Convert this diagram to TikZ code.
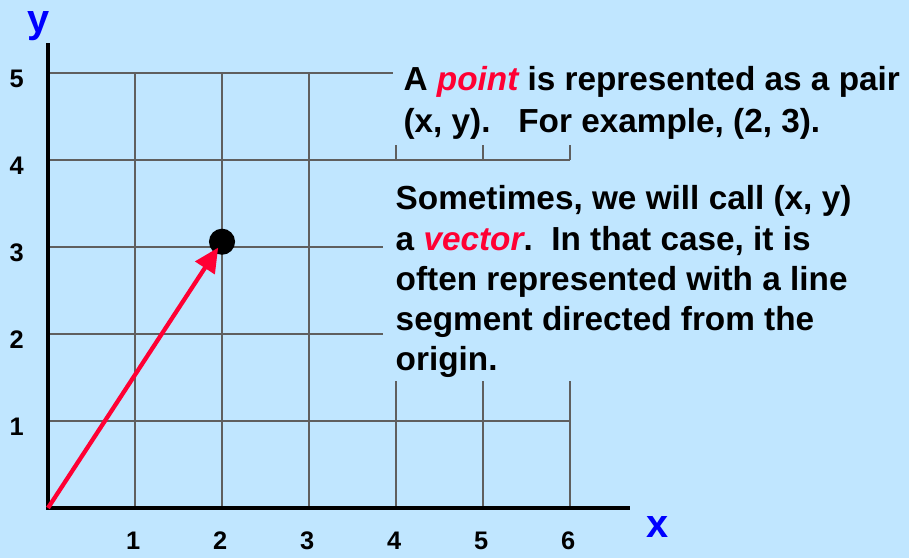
\documentclass[tikz,border=0pt]{standalone}
\usepackage{fontspec}
\setmainfont{Liberation Sans}
\usetikzlibrary{arrows.meta}
\definecolor{slidebg}{RGB}{192,230,255}
\definecolor{vecred}{RGB}{255,0,51}
\definecolor{gridgray}{RGB}{95,95,95}

\begin{document}
\begin{tikzpicture}[>=Latex,
  gridline/.style={gridgray,line width=.5pt},
  axis/.style={line width=1.35pt,line join=miter},
  num/.style={font=\fontsize{8.3}{10}\selectfont\bfseries},
  axlabel/.style={blue,font=\fontsize{13}{15}\selectfont\bfseries},
  note/.style={anchor=north west,inner sep=0pt,align=left,font=\fontsize{10.9}{13.6}\selectfont\bfseries}]
\fill[slidebg] (-.552,-.575) rectangle (9.897,5.839);
\useasboundingbox (-.552,-.575) rectangle (9.897,5.839);
\draw[gridline] (0,0) grid (3,5);
\foreach \y/\e in {1/6,2/3.85,3/3.85,4/6,5/3.97} \draw[gridline] (3,\y)--(\e,\y);
\foreach \x in {4,5,6} {\draw[gridline] (\x,0)--(\x,1.46);\draw[gridline] (\x,4)--(\x,4.17);}
\coordinate (O) at (0,0);\coordinate (ytop) at (0,5.34);\coordinate (xend) at (6.69,0);
\draw[axis] (ytop)--(O)--(xend);
\foreach \i in {1,...,6} \node[num] (xn\i) at (\i-.02,-.38) {\i};
\foreach \j in {1,...,5} \node[num] (yn\j) at (-.36,\j-.07) {\j};
\node[axlabel] (xlab) at (7.01,-.22) {x};\node[axlabel] (ylab) at (-.11,5.54) {y};
\node[circle,fill=black,minimum size=.3cm,inner sep=0pt] (P) at (2,3.06) {};
\draw[vecred,line width=1.4pt,-{Triangle[length=.28cm,width=.26cm]},shorten >=.08cm] (O)--(P.center);
\node[note] (pointtxt) at (4.08,5.08) {A {\itshape\color{vecred}point} is represented as a pair\\(x, y).\ \ \ For example, (2, 3).};
\node[note,font=\fontsize{10.9}{13.1}\selectfont\bfseries] (vectortxt) at (3.99,3.71) {Sometimes, we will call (x, y)\\a {\itshape\color{vecred}vector}.\ \ In that case, it is\\often represented with a line\\segment directed from the\\origin.};
\end{tikzpicture}
\end{document}
